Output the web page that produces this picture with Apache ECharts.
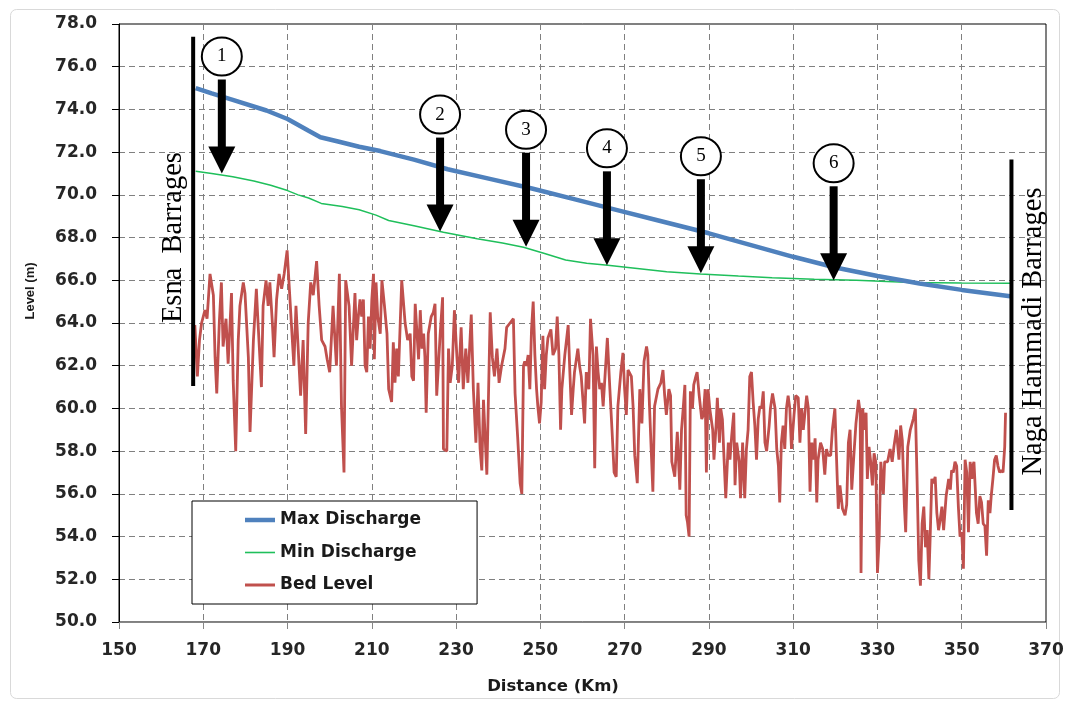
<!DOCTYPE html>
<html><head><meta charset="utf-8">
<script src="https://cdn.jsdelivr.net/npm/echarts/dist/echarts.min.js"></script>
<style>html,body{margin:0;padding:0;background:#fff}#c{width:1067px;height:702px}</style>
</head><body><div id="c"></div>
<script>
// ---- axis ranges / ticks ----
const xRange = [150, 370, 20];   // min, max, interval (km)
const yRange = [50, 78, 2];      // min, max, interval (m)

// ---- series: [distance km, level m] ----
const maxDischarge = [[168.2,75.0],[172,74.75],[177,74.45],[185,73.95],[190,73.55],[195,73.0],[197.8,72.7],[202,72.5],[207,72.25],[212,72.05],[220,71.65],[228,71.2],[238,70.75],[248,70.3],[258,69.8],[268,69.3],[278,68.8],[290,68.2],[300,67.65],[310,67.1],[320,66.6],[330,66.2],[340,65.85],[350,65.55],[361.5,65.25]];

const minDischarge = [[168.2,71.1],[172,71.0],[177,70.85],[182,70.65],[186,70.45],[190,70.2],[192.5,70.0],[195,69.85],[198,69.6],[203,69.45],[207,69.3],[211,69.05],[214,68.8],[220,68.55],[227,68.25],[235,67.95],[241,67.75],[246,67.55],[251,67.25],[256,66.95],[261,66.8],[266,66.7],[273,66.55],[280,66.4],[288,66.3],[297,66.2],[305,66.12],[315,66.05],[325,66.0],[338,65.9],[350,65.87],[361.5,65.86]];

const bedLevel = [[168.0,63.9],[168.6,61.5],[169.1,63.2],[169.6,64.0],[170.4,64.6],[170.9,64.2],[171.6,66.3],[172.4,65.3],[172.8,62.4],[173.2,60.7],[173.8,64.0],[174.3,65.9],[174.7,62.9],[175.4,64.2],[175.9,62.1],[176.7,65.4],[177.1,61.3],[177.7,58.0],[178.3,63.2],[178.7,64.8],[179.5,65.9],[179.9,65.4],[180.7,62.4],[181.1,58.9],[181.9,63.2],[182.6,65.6],[183.0,64.0],[183.8,61.0],[184.2,64.8],[184.9,66.0],[185.4,64.8],[185.8,65.9],[186.4,64.0],[186.8,62.4],[187.4,65.1],[188.0,66.3],[188.6,65.6],[189.2,66.3],[189.9,67.4],[190.4,65.7],[190.9,64.0],[191.5,62.0],[192.0,64.8],[192.5,62.9],[193.1,60.6],[193.7,63.2],[194.3,58.8],[194.9,64.0],[195.5,65.9],[196.1,65.3],[196.9,66.9],[197.5,64.8],[198.1,63.2],[198.9,62.9],[199.4,62.3],[200.0,61.7],[200.8,64.8],[201.6,62.0],[202.3,66.3],[202.8,60.1],[203.4,57.0],[203.8,66.0],[204.6,64.8],[205.2,62.0],[206.0,65.4],
[206.4,63.2],[206.8,64.3],[207.2,65.1],[207.6,64.3],[208.0,65.1],[208.4,62.0],[208.8,61.7],[209.2,64.3],[209.6,62.8],[210.0,65.1],[210.4,66.3],[210.6,62.3],[211.0,65.9],[211.4,64.3],[212.0,63.5],[212.4,66.0],[213.0,64.8],[213.6,63.5],[214.0,60.9],[214.7,60.3],[215.1,63.1],[215.5,61.2],[215.9,62.8],[216.3,61.5],[217.1,66.0],[217.9,64.0],[218.5,63.2],[219.1,63.5],[219.5,61.5],[219.9,61.3],[220.3,64.9],[221.1,62.3],[221.5,64.6],[221.9,62.8],[222.3,63.5],[222.6,62.4],[222.9,59.8],[223.4,63.5],[224.1,64.3],[224.6,64.5],[225.0,64.9],[225.4,60.6],[226.2,63.4],[226.8,65.2],[227.0,58.1],[227.8,58.0],[228.2,62.8],[228.6,61.2],[229.1,62.0],[229.6,64.6],[230.2,62.4],[230.6,61.2],[231.2,63.8],[231.7,60.9],[232.3,62.8],[232.8,61.2],[233.6,64.4],[234.1,60.9],[234.7,58.4],[235.2,61.2],[235.7,58.1],[236.1,57.1],[236.5,60.4],[237.3,56.9],[238.1,64.5],[238.6,62.4],[239.1,61.5],[239.7,62.8],[240.2,61.2],[240.8,62.0],[241.6,62.8],[242.0,63.8],[242.8,64.0],[243.6,64.2],[244.0,60.7],[244.6,58.7],[245.2,56.5],[245.6,56.0],
[246.0,62.0],[246.3,62.2],[246.7,62.0],[247.1,62.5],[247.5,60.9],[247.9,63.7],[248.3,65.0],[248.7,62.5],[249.1,60.9],[249.4,60.1],[249.8,59.3],[250.2,60.3],[250.6,63.4],[251.0,60.9],[251.4,62.5],[251.8,63.3],[252.5,63.7],[253.0,62.5],[253.6,62.8],[254.0,64.3],[254.4,62.5],[254.8,59.0],[255.1,60.9],[255.8,62.5],[256.6,63.9],[257.0,61.7],[257.4,59.7],[257.8,60.9],[258.1,61.7],[258.9,62.8],[259.3,62.0],[259.7,61.5],[260.5,59.3],[260.9,61.7],[261.5,60.9],[261.9,64.2],[262.5,62.5],[262.9,57.2],[263.3,62.9],[263.7,61.7],[264.1,60.9],[264.5,61.2],[264.9,60.1],[265.4,61.7],[265.9,63.3],[266.5,60.9],[267.0,59.0],[267.5,57.0],[268.0,56.8],[268.4,60.1],[269.1,61.7],[269.6,62.6],[270.0,60.9],[270.4,59.7],[270.8,61.8],[271.6,61.5],[272.0,60.1],[272.4,57.8],[273.0,56.5],[273.6,60.9],[274.1,59.3],[274.6,62.2],[275.2,62.9],[275.5,62.5],[275.9,60.1],[276.3,58.1],[276.7,56.1],[277.1,60.1],[277.9,60.9],[278.6,61.2],[279.1,61.8],[279.5,60.6],[279.9,59.7],[280.5,60.9],[280.9,60.6],[281.2,57.5],[281.9,56.8],[282.5,58.9],[283.1,56.2],[283.5,59.0],[283.9,60.0],[284.3,61.1],[284.6,55.0],
[284.9,54.7],[285.3,54.0],[285.6,60.8],[286.1,60.0],[286.4,61.1],[286.9,61.5],[287.2,61.7],[287.7,60.6],[288.3,59.5],[288.7,59.7],[289.1,60.9],[289.4,57.0],[289.8,60.9],[290.2,60.0],[290.9,59.0],[291.2,57.6],[291.7,59.2],[292.0,60.5],[292.5,58.4],[292.8,60.0],[293.2,59.5],[293.6,57.6],[294.0,55.8],[294.6,58.4],[295.0,57.6],[295.4,58.7],[295.9,59.8],[296.2,56.4],[296.6,58.4],[297.2,57.5],[297.5,55.8],[298.0,58.4],[298.5,55.8],[298.9,58.1],[299.3,59.0],[299.7,61.5],[300.1,61.7],[300.5,60.3],[300.9,59.2],[301.3,57.6],[301.7,59.5],[302.1,60.1],[302.5,60.0],[302.9,60.8],[303.3,58.4],[303.7,58.0],[304.3,59.2],[304.6,60.0],[305.1,60.7],[305.7,60.0],[306.1,58.1],[306.5,57.3],[306.8,55.6],[307.2,58.4],[307.6,59.2],[308.0,58.1],[308.4,60.0],[308.8,60.6],[309.2,60.0],[309.6,58.1],[310.2,59.7],[310.6,60.6],[311.2,60.5],[311.6,58.4],[312.0,60.0],[312.4,59.0],[313.2,60.6],[313.6,60.0],[314.0,56.1],[314.4,58.4],[314.8,57.6],[315.2,58.6],[315.6,55.6],[315.9,57.6],[316.5,58.4],[317.0,58.1],[317.5,56.9],[317.9,58.1],[318.3,57.8],[318.9,57.8],[319.3,59.0],[319.9,60.0],[320.3,57.6],[320.7,55.3],[321.1,56.4],[321.7,55.3],[322.3,55.0],[322.7,55.5],[323.1,58.4],[323.5,59.0],
[323.9,56.2],[324.4,57.8],[324.9,59.3],[325.5,60.4],[325.9,59.8],[326.1,52.3],[326.5,60.0],[326.9,59.0],[327.3,59.8],[327.6,56.7],[328.0,58.2],[328.4,57.5],[328.8,56.4],[329.2,57.9],[329.6,57.5],[330.0,52.3],[330.4,53.9],[330.8,57.5],[331.4,56.0],[331.7,57.5],[332.4,57.5],[333.0,58.1],[333.5,57.5],[333.9,58.2],[334.5,59.0],[335.1,57.6],[335.5,59.2],[335.9,58.5],[336.4,55.4],[336.7,54.2],[337.2,58.2],[337.8,59.0],[338.5,59.5],[339.0,60.0],[339.4,56.7],[339.8,52.9],[340.2,51.7],[340.6,54.6],[341.0,55.4],[341.4,53.5],[341.8,54.3],[342.2,52.0],[342.5,53.9],[342.9,56.7],[343.3,56.5],[343.7,56.8],[344.1,55.1],[344.5,54.3],[344.9,54.8],[345.3,55.4],[345.7,54.3],[346.3,55.9],[346.9,56.7],[347.3,56.2],[347.6,57.1],[348.0,57.0],[348.4,57.5],[348.8,57.3],[349.2,55.4],[349.6,54.0],[350.0,54.2],[350.4,52.5],[350.8,57.6],[351.2,57.0],[351.6,54.2],[352.0,57.5],[352.4,56.7],[352.6,57.3],[352.9,57.5],[353.5,55.1],[353.9,54.6],[354.3,55.9],[354.7,55.6],[355.1,54.6],[355.5,54.5],[355.9,53.1],[356.3,55.7],[356.7,55.1],[357.0,55.9],[357.4,56.7],[357.8,57.6],[358.2,57.8],[358.6,57.3],[359.0,57.0],[359.4,57.1],[359.8,57.0],[360.2,58.2],[360.4,59.8]];

// ---- annotations ----
const arrowKm    = [174.4, 226.2, 246.6, 265.8, 288.1, 319.6];
const arrowTip   = [71.0, 68.28, 67.57, 66.7, 66.33, 66.0];
const arrowLabel = ['1', '2', '3', '4', '5', '6'];

const barrageName  = ['Esna  Barrages', 'Naga Hammadi Barrages'];
const barrageKm    = [167.6, 361.8];
const barrageTop   = [77.4, 71.65];
const barrageBot   = [61.05, 55.25];
const barrageTextY = [68.0, 63.6];

const seriesNames = ['Max Discharge', 'Min Discharge', 'Bed Level'];
const seriesColors = ['#4F81BD', '#1FBF5B', '#C0504D'];

const chart = echarts.init(document.getElementById('c'));
const SANS = '"DejaVu Sans", sans-serif';
const SERIF = '"Liberation Serif", "Times New Roman", serif';

const arrowData = arrowKm.map((k, i) => [k, arrowTip[i]]);
const barrageData = barrageKm.map((k, i) => [k, barrageTop[i], barrageBot[i], barrageTextY[i]]);

chart.setOption({
  animation: false,
  backgroundColor: '#fff',
  grid: { left: 119, right: 21, top: 24, bottom: 80, show: true, borderColor: '#000', borderWidth: 1, containLabel: false },
  xAxis: {
    type: 'value', min: xRange[0], max: xRange[1], interval: xRange[2],
    axisLine: { lineStyle: { color: '#868686', width: 1 } },
    axisTick: { show: true, length: 7, lineStyle: { color: '#868686' } },
    axisLabel: { margin: 20, color: '#262626', fontFamily: SANS, fontWeight: 'bold', fontSize: 17 },
    splitLine: { show: true, lineStyle: { color: '#808080', type: [6, 4], width: 1 } }
  },
  yAxis: {
    type: 'value', min: yRange[0], max: yRange[1], interval: yRange[2],
    axisLine: { show: true, lineStyle: { color: '#000', width: 1 } },
    axisTick: { show: true, length: 7, lineStyle: { color: '#000' } },
    axisLabel: { margin: 22, color: '#262626', fontFamily: SANS, fontWeight: 'bold', fontSize: 17,
      formatter: v => v.toFixed(1) },
    splitLine: { show: true, lineStyle: { color: '#808080', type: [6, 4], width: 1 } }
  },
  legend: {
    data: [
      { name: seriesNames[0], icon: 'path://M0,0H30V4.5H0Z' },
      { name: seriesNames[1], icon: 'path://M0,0H30V1.6H0Z' },
      { name: seriesNames[2], icon: 'path://M0,0H30V3H0Z' }
    ],
    orient: 'vertical', left: 192, top: 501, symbolKeepAspect: true,
    padding: [9, 56, 9, 53], itemGap: 12.5, itemWidth: 30, itemHeight: 20,
    backgroundColor: '#fff', borderColor: '#000', borderWidth: 1, borderRadius: 0,
    textStyle: { fontFamily: SANS, fontWeight: 'bold', fontSize: 17, color: '#1a1a1a', lineHeight: 20 },
    z: 10
  },
  graphic: [
    { type: 'rect', shape: { x: 10.5, y: 9.5, width: 1049, height: 689, r: 6 }, style: { fill: 'none', stroke: '#d9d9d9', lineWidth: 1 }, silent: true },
    { type: 'text', x: 30, y: 291, rotation: Math.PI / 2, style: { text: 'Level (m)', font: 'bold 13px "Liberation Sans", Arial, sans-serif', fill: '#1a1a1a', textAlign: 'center', textVerticalAlign: 'middle' } },
    { type: 'text', x: 553, y: 687, style: { text: 'Distance (Km)', font: 'bold 16.5px ' + SANS, fill: '#1a1a1a', textAlign: 'center', textVerticalAlign: 'middle' } }
  ],
  series: [
    { name: seriesNames[2], type: 'line', data: bedLevel, symbol: 'none', showSymbol: false,
      lineStyle: { color: seriesColors[2], width: 2.8 }, itemStyle: { color: seriesColors[2] }, z: 2 },
    { name: seriesNames[1], type: 'line', data: minDischarge, symbol: 'none', showSymbol: false,
      lineStyle: { color: seriesColors[1], width: 1.5 }, itemStyle: { color: seriesColors[1] }, z: 3 },
    { name: seriesNames[0], type: 'line', data: maxDischarge, symbol: 'none', showSymbol: false,
      lineStyle: { color: seriesColors[0], width: 4.5 }, itemStyle: { color: seriesColors[0] }, z: 4 },
    { type: 'custom', data: barrageData, clip: false, z: 6, silent: true,
      renderItem: function (params, api) {
        const i = params.dataIndex;
        const top = api.coord([api.value(0), api.value(1)]);
        const bot = api.coord([api.value(0), api.value(2)]);
        const mid = api.coord([api.value(0), api.value(3)]);
        const dx = i === 0 ? -20 : 22;
        return { type: 'group', children: [
          { type: 'rect', shape: { x: top[0] - 2, y: top[1], width: 4, height: bot[1] - top[1] }, style: { fill: '#000' } },
          { type: 'text', x: top[0] + dx, y: mid[1], rotation: Math.PI / 2,
            style: { text: barrageName[i], font: '28.5px ' + SERIF, fill: '#000', textAlign: 'center', textVerticalAlign: 'middle' } }
        ] };
      } },
    { type: 'custom', data: arrowData, clip: false, z: 7, silent: true,
      renderItem: function (params, api) {
        const p = api.coord([api.value(0), api.value(1)]);
        const x = p[0], tip = p[1];
        const len = 94, headH = 27, headW = 27, sw = 8;
        const cy = tip - len - 23;
        return { type: 'group', children: [
          { type: 'rect', shape: { x: x - sw / 2, y: tip - len, width: sw, height: len - headH + 1 }, style: { fill: '#000' } },
          { type: 'polygon', shape: { points: [[x - headW / 2, tip - headH], [x + headW / 2, tip - headH], [x, tip]] }, style: { fill: '#000' } },
          { type: 'ellipse', shape: { cx: x, cy: cy, rx: 20, ry: 19 }, style: { fill: '#fff', stroke: '#000', lineWidth: 2 } },
          { type: 'text', x: x, y: cy, style: { text: arrowLabel[params.dataIndex], font: '19px ' + SERIF, fill: '#000', textAlign: 'center', textVerticalAlign: 'middle' } }
        ] };
      } }
  ]
});
</script></body></html>
